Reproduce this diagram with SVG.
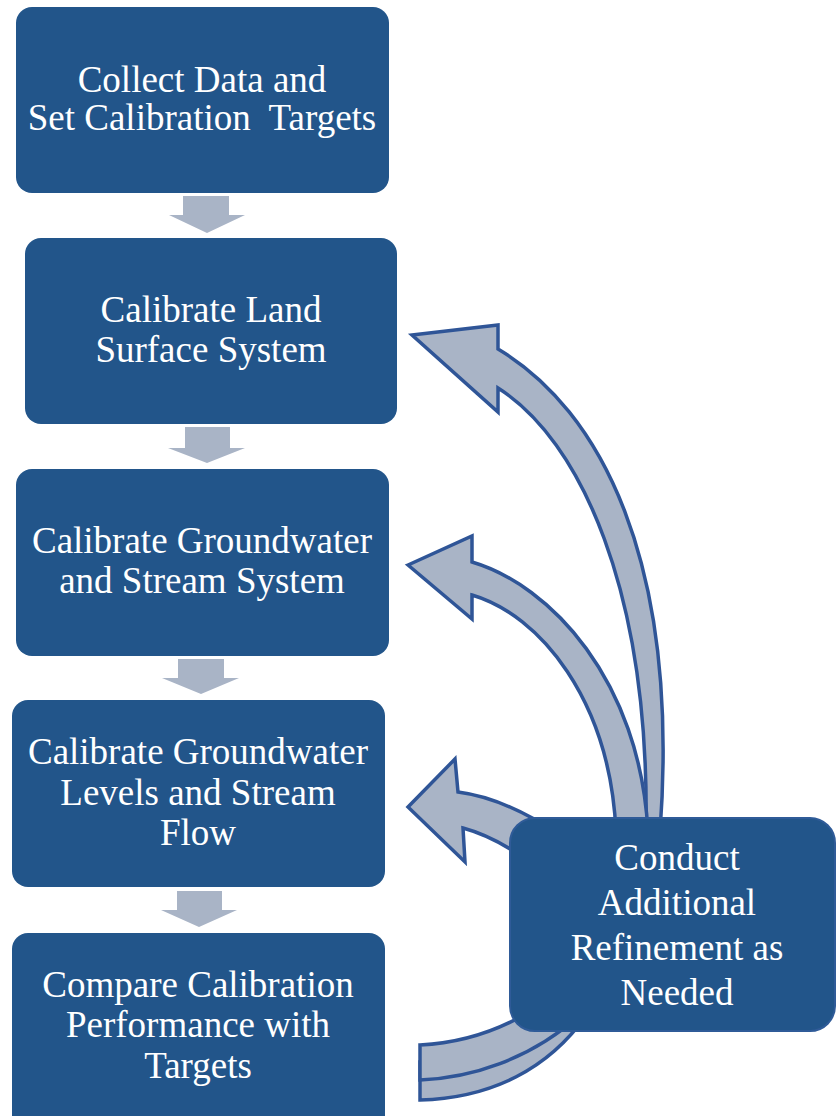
<svg xmlns="http://www.w3.org/2000/svg" width="836" height="1116" viewBox="0 0 836 1116">
<style>
.box{fill:#22558A;}
.box6{fill:#22558A;stroke:#2F5B98;stroke-width:2;}
.lbl{font-size:37px;fill:#FFFFFF;text-anchor:middle;}
.down{fill:#A9B4C6;}
.curve{fill:#A9B4C6;stroke:#2F5597;stroke-width:3.5;stroke-linejoin:miter;}
</style>
<rect width="836" height="1116" fill="#FFFFFF"/>
<g id="connectors">
  <path class="down" d="M183,196 H229 V215 H245 L207,233 L169,215 H183 Z"/>
  <path class="down" d="M185,427 H230 V448 H245 L207,463 L168,448 H185 Z"/>
  <path class="down" d="M178,659 H224 V678 H239 L201,694 L162,678 H178 Z"/>
  <path class="down" d="M177,891 H222 V910 H237 L199,927 L161,910 H177 Z"/>
  <path id="loopA" class="curve" d="M412,335 L498,325 L498,349 C600,410 680,560 660,832 L646,832 C650,590 580,440 498,388 L498,412 Z"/>
  <path id="loopB" class="curve" d="M408,565 L472,536 L472,562 C550,585 640,680 648,832 L616,832 C610,700 540,615 472,595 L472,619 Z"/>
  <path id="loopC" class="curve" d="M408,807 L455,759 L458,792 Q505,798 560,835 L540,870 Q500,838 463,828 L465,862 Z"/>
  <path id="loopD2" class="curve" d="M420,1100 C490,1098 550,1070 590,1010 L575,1005 C530,1040 470,1060 420,1062 Z"/>
  <path id="loopD1" class="curve" d="M420,1045 C460,1043 500,1032 540,1005 L580,1015 C530,1060 470,1078 420,1080 Z"/>
</g>
<g font-family="'Liberation Serif', 'DejaVu Serif', serif">
<g id="node1">
  <rect class="box" x="16" y="7" width="373" height="186" rx="16"/>
  <text class="lbl" x="202" y="92">Collect Data and</text>
  <text class="lbl" x="202" y="130" xml:space="preserve">Set Calibration  Targets</text>
</g>
<g id="node2">
  <rect class="box" x="25" y="238" width="372" height="186" rx="16"/>
  <text class="lbl" x="211" y="322">Calibrate Land</text>
  <text class="lbl" x="211" y="362">Surface System</text>
</g>
<g id="node3">
  <rect class="box" x="16" y="469" width="373" height="187" rx="16"/>
  <text class="lbl" x="202" y="553">Calibrate Groundwater</text>
  <text class="lbl" x="202" y="593">and Stream System</text>
</g>
<g id="node4">
  <rect class="box" x="12" y="700" width="373" height="187" rx="16"/>
  <text class="lbl" x="198" y="764">Calibrate Groundwater</text>
  <text class="lbl" x="198" y="805">Levels and Stream</text>
  <text class="lbl" x="198" y="845">Flow</text>
</g>
<g id="node5">
  <rect class="box" x="12" y="933" width="373" height="210" rx="16"/>
  <text class="lbl" x="198" y="997">Compare Calibration</text>
  <text class="lbl" x="198" y="1037">Performance with</text>
  <text class="lbl" x="198" y="1078">Targets</text>
</g>
<g id="node6">
  <rect class="box6" x="510" y="818" width="325" height="213" rx="25"/>
  <text class="lbl" x="677" y="870">Conduct</text>
  <text class="lbl" x="677" y="915">Additional</text>
  <text class="lbl" x="677" y="960">Refinement as</text>
  <text class="lbl" x="677" y="1005">Needed</text>
</g>
</g>
</svg>
